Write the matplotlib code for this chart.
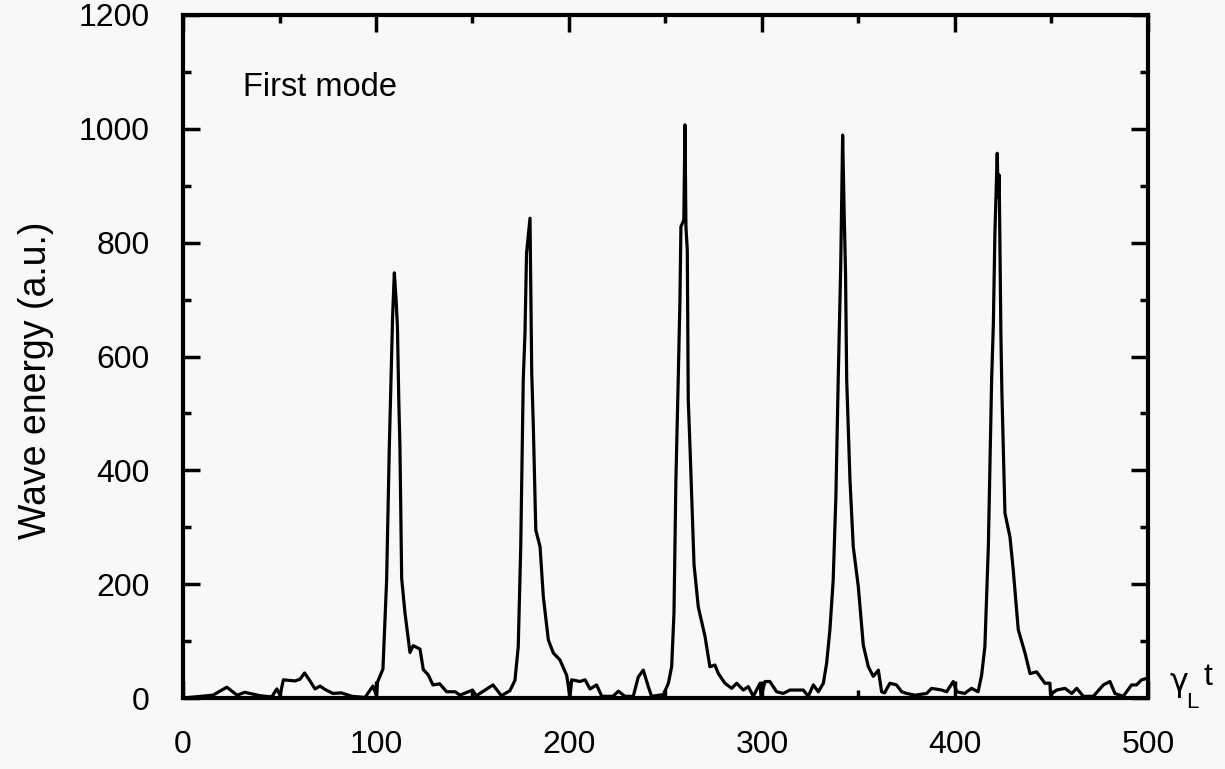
import numpy as np
import matplotlib
matplotlib.use('Agg')
from matplotlib import pyplot as plt
from matplotlib.ticker import MultipleLocator

plt.rcParams['font.family'] = ['Liberation Sans', 'DejaVu Sans']

# traced wave energy of the first mode vs gamma_L * t
t = [0, 15.5, 22.7, 28, 32, 40, 46, 48.6, 50.3, 52, 58, 60.6, 63, 65.8, 68.4, 71,
     73.6, 77.7, 82, 87.6, 94.3, 98.4, 100.3, 100.8, 103.6, 105.5, 106.9, 108.6,
     109.5, 110.4, 111.1, 111.8, 112.4, 113.3, 115, 117.6, 119.3, 122.8, 124.5,
     127, 129.5, 133, 136.6, 141, 143.5, 150, 152, 160.6, 165, 169.4, 172, 173.7,
     175, 176.3, 177.2, 178, 179.8, 180.3, 180.7, 181.5, 182.8, 185, 186.7, 189.3,
     191.9, 195.3, 198.8, 200.5, 201.4, 205.7, 208.3, 210.9, 214.3, 217, 222.8,
     225.6, 229, 233.3, 235.9, 238.5, 241.1, 242.8, 248.9, 251.5, 253.2, 254.4,
     255.4, 256.6, 257.5, 258, 259.5, 260.1, 260.6, 261.3, 261.8, 262.7, 264.8,
     267, 270.5, 273, 275.6, 277.4, 280.8, 284.3, 286.9, 290.3, 292.9, 295.5,
     299, 299.5, 301.6, 304.1, 307.6, 311, 314.5, 321.4, 324, 326.6, 329.2,
     331.8, 333.5, 335.2, 336.9, 338.3, 339.5, 340.8, 341.8, 342.6, 343.3, 343.9,
     345.6, 347.3, 349.9, 352.5, 355.1, 357.7, 360.3, 362, 363.5, 366.3, 369.7,
     372.4, 375, 379.3, 385.3, 387.9, 393.1, 395.7, 399.1, 400.9, 405, 408.6,
     412, 413.8, 415.5, 417.3, 419, 419.9, 420.7, 421.9, 422.4, 422.9, 423.8,
     424.3, 425.9, 428.5, 430.2, 432.8, 436.3, 438.9, 442.3, 446.6, 449.2, 449.5,
     452.7, 457, 460.5, 463.1, 466.5, 471.7, 476.9, 480.3, 482.9, 487.2, 491.5,
     494.1, 496.7, 500]
energy = [0, 5, 19, 5, 10, 4, 2, 16, 5, 32, 30, 33, 44, 30, 16, 21,
          15, 8, 9, 3, 1, 21, 4, 28, 51, 207, 442, 670,
          747, 700, 653, 524, 442, 210, 150, 80, 92, 86, 50,
          41, 23, 25, 11, 11, 5, 14, 4, 23, 4, 13, 31, 90,
          266, 559, 641, 781, 843, 700, 571, 480, 295, 266, 178, 102,
          79, 67, 40, 2, 32, 29, 32, 16, 23, 3, 3,
          12, 3, 3, 37, 49, 20, 3, 6, 26, 55, 149,
          383, 559, 700, 828, 840, 1007, 828, 787, 524, 442, 234,
          160, 108, 55, 58, 43, 26, 17, 26, 14, 20, 3,
          26, 3, 29, 29, 11, 8, 14, 14, 3, 23, 11,
          26, 61, 120, 207, 354, 559, 758, 989, 850, 747, 559,
          383, 266, 196, 93, 55, 38, 49, 11, 9, 26, 23,
          11, 8, 5, 8, 17, 14, 11, 29, 11, 8, 17,
          11, 40, 90, 266, 559, 658, 817, 957, 880, 919, 641,
          540, 325, 283, 225, 120, 79, 43, 46, 26, 26, 6,
          14, 17, 8, 17, 3, 3, 23, 29, 8, 3, 23,
          23, 32, 35]

bg = '#f8f8f8'
fig = plt.figure(figsize=(12.25, 7.69), dpi=100, facecolor=bg)
ax = fig.add_axes([0.1494, 0.0923, 0.7877, 0.8882], facecolor=bg)

ax.plot(t, energy, color='black', linewidth=2.3)

ax.set_xlim(0, 500)
ax.set_ylim(0, 1200)
ax.xaxis.set_major_locator(MultipleLocator(100))
ax.xaxis.set_minor_locator(MultipleLocator(50))
ax.yaxis.set_major_locator(MultipleLocator(200))
ax.yaxis.set_minor_locator(MultipleLocator(100))
ax.tick_params(which='both', direction='in', top=True, right=True,
               width=2.5, labelsize=23)
ax.tick_params(which='major', length=12)
ax.tick_params(which='minor', length=6)
ax.tick_params(axis='x', pad=23)
ax.tick_params(axis='y', pad=24)
for s in ax.spines.values():
    s.set_linewidth(3)

ax.set_ylabel('Wave energy (a.u.)', fontsize=27, va='center')
ax.yaxis.set_label_coords(-0.152, 0.465)
ax.text(31, 1072, 'First mode', fontsize=23.5, va='center', ha='left')

# gamma_L t axis label at the end of the x axis
fig.text(1169 / 1225, 1 - 682 / 769, 'γ', fontsize=23, va='center', ha='left',
         family='DejaVu Sans')
fig.text(1186 / 1225, 1 - 702 / 769, 'L', fontsize=16, va='center', ha='left')
fig.text(1204 / 1225, 1 - 677 / 769, 't', fontsize=23, va='center', ha='left')

plt.savefig('out.png', dpi=100, facecolor=bg)
print('Complete')
